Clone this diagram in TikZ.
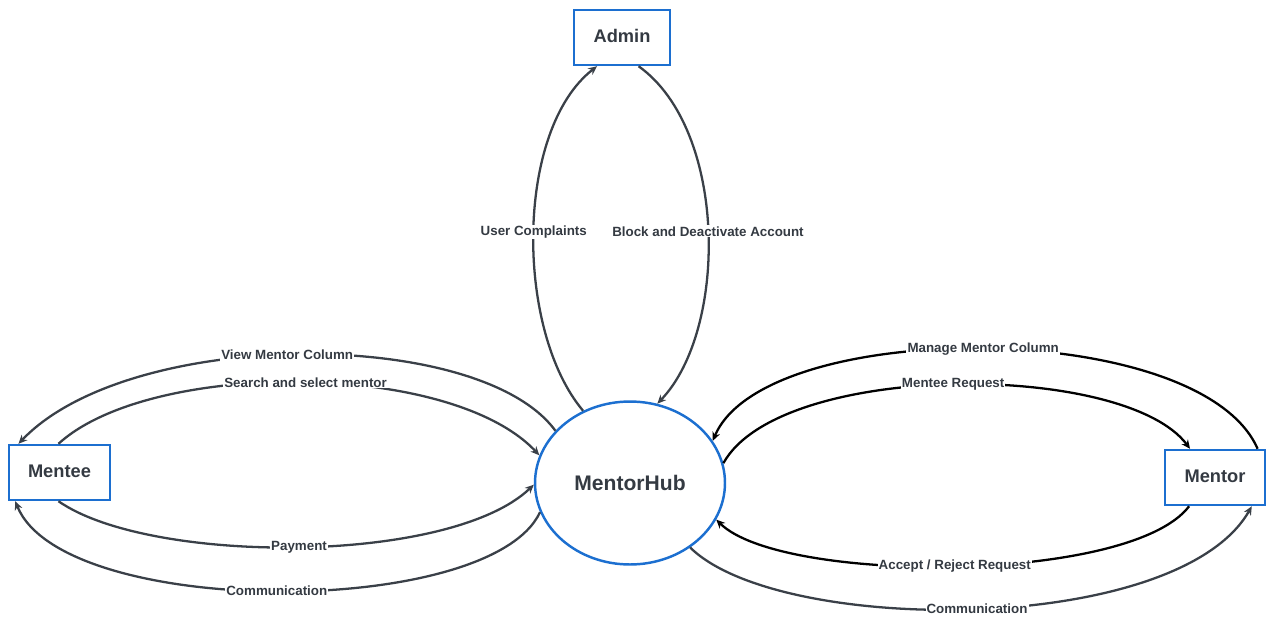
\documentclass[tikz,border=0pt]{standalone}
\usepackage{fontspec}
\setmainfont{Liberation Sans}
\usetikzlibrary{arrows.meta,shapes.geometric}
\definecolor{boxblue}{HTML}{1C6FD0}
\definecolor{linegray}{HTML}{3A4048}
\definecolor{txt}{HTML}{343A42}
\tikzset{
  entity/.style={draw=boxblue, line width=1.4pt, rectangle, minimum height=1.1cm, inner sep=0pt, font=\bfseries\fontsize{10.4}{12}\selectfont, text=txt},
  proc/.style={draw=boxblue, line width=1.4pt, ellipse, minimum width=3.8cm, minimum height=3.26cm, inner sep=0pt, font=\bfseries\fontsize{12}{14}\selectfont, text=txt},
  flow/.style={draw=linegray, line width=1.3pt, -{Stealth[length=5pt,width=4.5pt]}},
  flowk/.style={flow, draw=black},
  lab/.style={fill=white, inner sep=0.6pt, font=\bfseries\fontsize{7.6}{9}\selectfont, text=txt}
}
\begin{document}
\begin{tikzpicture}[x=0.02cm, y=-0.02cm]
\useasboundingbox (0,0) rectangle (1275,629);
\node[entity, minimum width=1.92cm] (admin) at (622,37.5) {\raisebox{2pt}{Admin}};
\node[entity, minimum width=2.02cm] (mentee) at (59.5,472.5) {\raisebox{1.5pt}{Mentee}};
\node[entity, minimum width=2.0cm] (mentor) at (1215,477.5) {\raisebox{1.5pt}{Mentor}};
\node[proc] (hub) at (630,483) {MentorHub};

% Admin
\draw[flow] (hub.123) .. controls (515,330) and (515,130) .. (admin.229)
  node[lab, pos=0.5] (l1) {User Complaints};
\draw[flow] (admin.300) .. controls (728,130) and (728,330) .. (hub.71)
  node[lab, pos=0.5] (l2) {Block and Deactivate Account};

% Mentee
\draw[flow] (hub.145) .. controls (480,327) and (130,327) .. (mentee.145)
  node[lab, pos=0.52] (l3) {View Mentor Column};
\draw[flow] (mentee.92) .. controls (150,360) and (450,360) .. (hub.163)
  node[lab, pos=0.51] (l4) {Search and select mentor};
\draw[flow] (mentee.268) .. controls (150,565) and (450,565) .. (hub.181)
  node[lab, pos=0.5] (l5) {Payment};
\draw[flow] (hub.198) .. controls (490,619) and (63,619) .. (mentee.213)
  node[lab, pos=0.5] (l6) {Communication};

% Mentor
\draw[flowk] (mentor.34.5) .. controls (1200,317) and (765,317) .. (hub.27)
  node[lab, pos=0.5] (l7) {Manage Mentor Column};
\draw[flowk] (hub.12) .. controls (780,361) and (1124,361) .. (mentor.131)
  node[lab, pos=0.5] (l8) {Mentee Request};
\draw[flowk] (mentor.228) .. controls (1130,584) and (781,584) .. (hub.337)
  node[lab, pos=0.5] (l9) {Accept / Reject Request};
\draw[flow] (hub.313) .. controls (780,636) and (1178,636) .. (mentor.322)
  node[lab, pos=0.5] (l10) {Communication};
\end{tikzpicture}
\end{document}
